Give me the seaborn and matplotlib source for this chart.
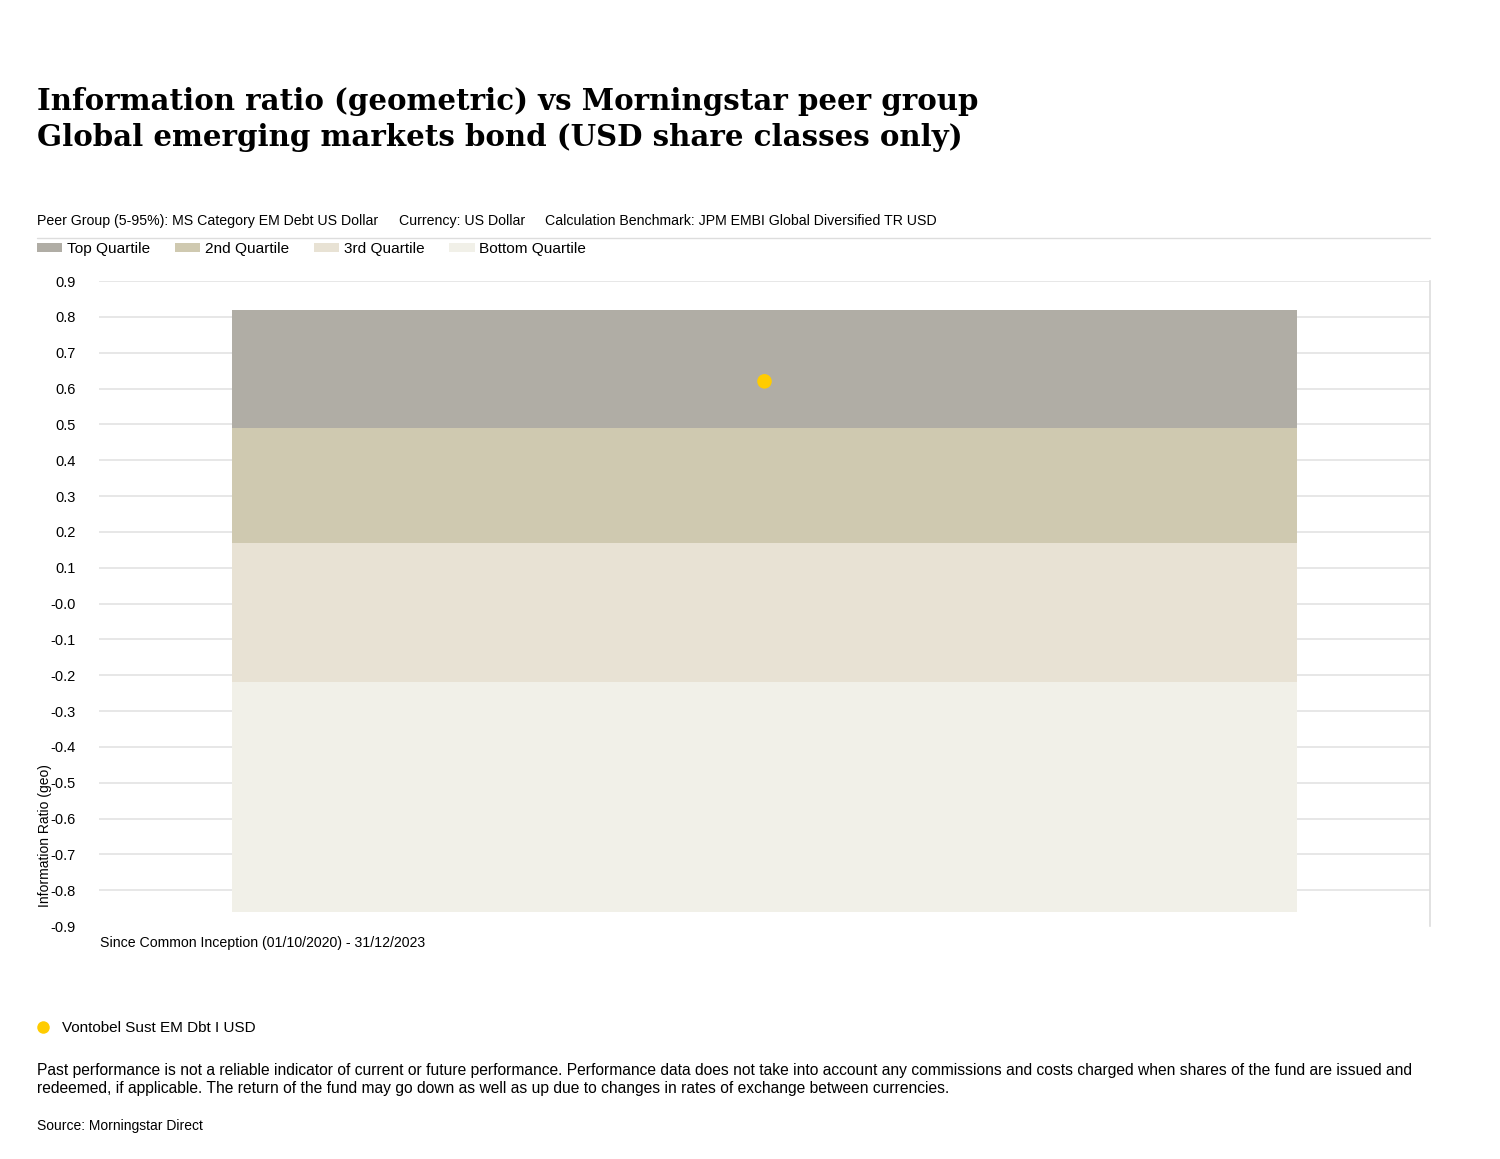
import matplotlib
matplotlib.use("Agg")
import matplotlib.pyplot as plt
from matplotlib.lines import Line2D
from matplotlib.patches import Patch
import seaborn as sns

# data
period = ["Since Common Inception (01/10/2020) - 31/12/2023"]
quartiles = ["Top Quartile", "2nd Quartile", "3rd Quartile", "Bottom Quartile"]
q_upper = [0.82, 0.49, 0.17, -0.22]
q_lower = [0.49, 0.17, -0.22, -0.86]
q_colors = ["#b0ada5", "#cfc9b0", "#e8e2d4", "#f1f0e8"]
fund_name = ["Vontobel Sust EM Dbt I USD"]
fund_value = [0.62]
yticks = [0.9, 0.8, 0.7, 0.6, 0.5, 0.4, 0.3, 0.2, 0.1, 0.0,
          -0.1, -0.2, -0.3, -0.4, -0.5, -0.6, -0.7, -0.8, -0.9]

sns.set_style("white")
plt.rcParams["font.family"] = ["Liberation Sans", "DejaVu Sans"]
plt.rcParams["text.color"] = "black"
plt.rcParams["ytick.color"] = "black"

W, H = 1500, 1159
fig = plt.figure(figsize=(15, 11.59), dpi=100)
ax = fig.add_axes([99 / W, 1 - 926 / H, (1430 - 99) / W, (926 - 281) / H])

# stacked quartile bands
for lab, up, lo, col in zip(quartiles, q_upper, q_lower, q_colors):
    sns.barplot(x=period, y=[up - lo], bottom=lo, color=col, width=0.8,
                linewidth=0, saturation=1, ax=ax, errorbar=None)

sns.scatterplot(x=period, y=fund_value, color="#ffcc00", s=110,
                edgecolor="none", ax=ax, zorder=5)

ax.set_ylim(-0.9, 0.9)
ax.set_xlim(-0.5, 0.5)
ax.set_yticks(yticks)
ax.set_yticklabels(["-0.0" if v == 0 else f"{v:.1f}" for v in yticks], fontsize=10.5)
ax.tick_params(axis="y", length=0, pad=17)
ax.set_xticks([])
ax.set_xlabel("")
ax.set_ylabel("")
for v in yticks:
    if v > -0.85:
        ax.axhline(v, color="#e3e3e3", lw=1.2, zorder=0)
for s in ["left", "top", "bottom"]:
    ax.spines[s].set_visible(False)
ax.spines["right"].set_color("#dddddd")
ax.spines["right"].set_linewidth(1.2)

fig.text(100 / W, 1 - 943 / H, period[0], fontsize=10.15, va="center", ha="left")
fig.text(45 / W, 1 - 907 / H, "Information Ratio (geo)", rotation=90,
         fontsize=10, va="bottom", ha="center")

# titles
fig.text(37 / W, 1 - 101 / H, "Information ratio (geometric) vs Morningstar peer group",
         family="DejaVu Serif", weight="bold", fontsize=21.1, va="center")
fig.text(37 / W, 1 - 138 / H, "Global emerging markets bond (USD share classes only)",
         family="DejaVu Serif", weight="bold", fontsize=21.1, va="center")

fig.text(37 / W, 1 - 221 / H, "Peer Group (5-95%): MS Category EM Debt US Dollar",
         fontsize=10.2, va="center")
fig.text(399 / W, 1 - 221 / H, "Currency: US Dollar", fontsize=10.2, va="center")
fig.text(545 / W, 1 - 221 / H,
         "Calculation Benchmark: JPM EMBI Global Diversified TR USD",
         fontsize=10.2, va="center")
fig.add_artist(Line2D([37 / W, 1430 / W], [1 - 238 / H, 1 - 238 / H],
                      color="#dddddd", lw=1))

handles = [Patch(facecolor=c, edgecolor="none") for c in q_colors]
fig.legend(handles, quartiles, loc="center left",
           bbox_to_anchor=(37 / W, 1 - 249 / H), ncol=4, frameon=False,
           fontsize=11.1, handlelength=1.65, handleheight=0.55,
           handletextpad=0.3, columnspacing=1.6, borderpad=0, borderaxespad=0)

# fund legend below
fig.legend([Line2D([], [], marker="o", ls="none", color="#ffcc00",
                   markersize=9, markeredgewidth=0)],
           fund_name, loc="center left", bbox_to_anchor=(34 / W, 1 - 1028 / H),
           frameon=False, fontsize=11, handlelength=1.2, handletextpad=0.65,
           borderpad=0, borderaxespad=0)
if ax.get_legend() is not None:
    ax.get_legend().remove()

fig.text(37 / W, 1 - 1070 / H,
         "Past performance is not a reliable indicator of current or future performance. "
         "Performance data does not take into account any commissions and costs charged when shares of the fund are issued and",
         fontsize=11.25, va="center")
fig.text(37 / W, 1 - 1089 / H,
         "redeemed, if applicable. The return of the fund may go down as well as up due to changes in rates of exchange between currencies.",
         fontsize=11.25, va="center")
fig.text(37 / W, 1 - 1126 / H, "Source: Morningstar Direct", fontsize=10, va="center")

fig.savefig("out.png", dpi=100, facecolor="white")
